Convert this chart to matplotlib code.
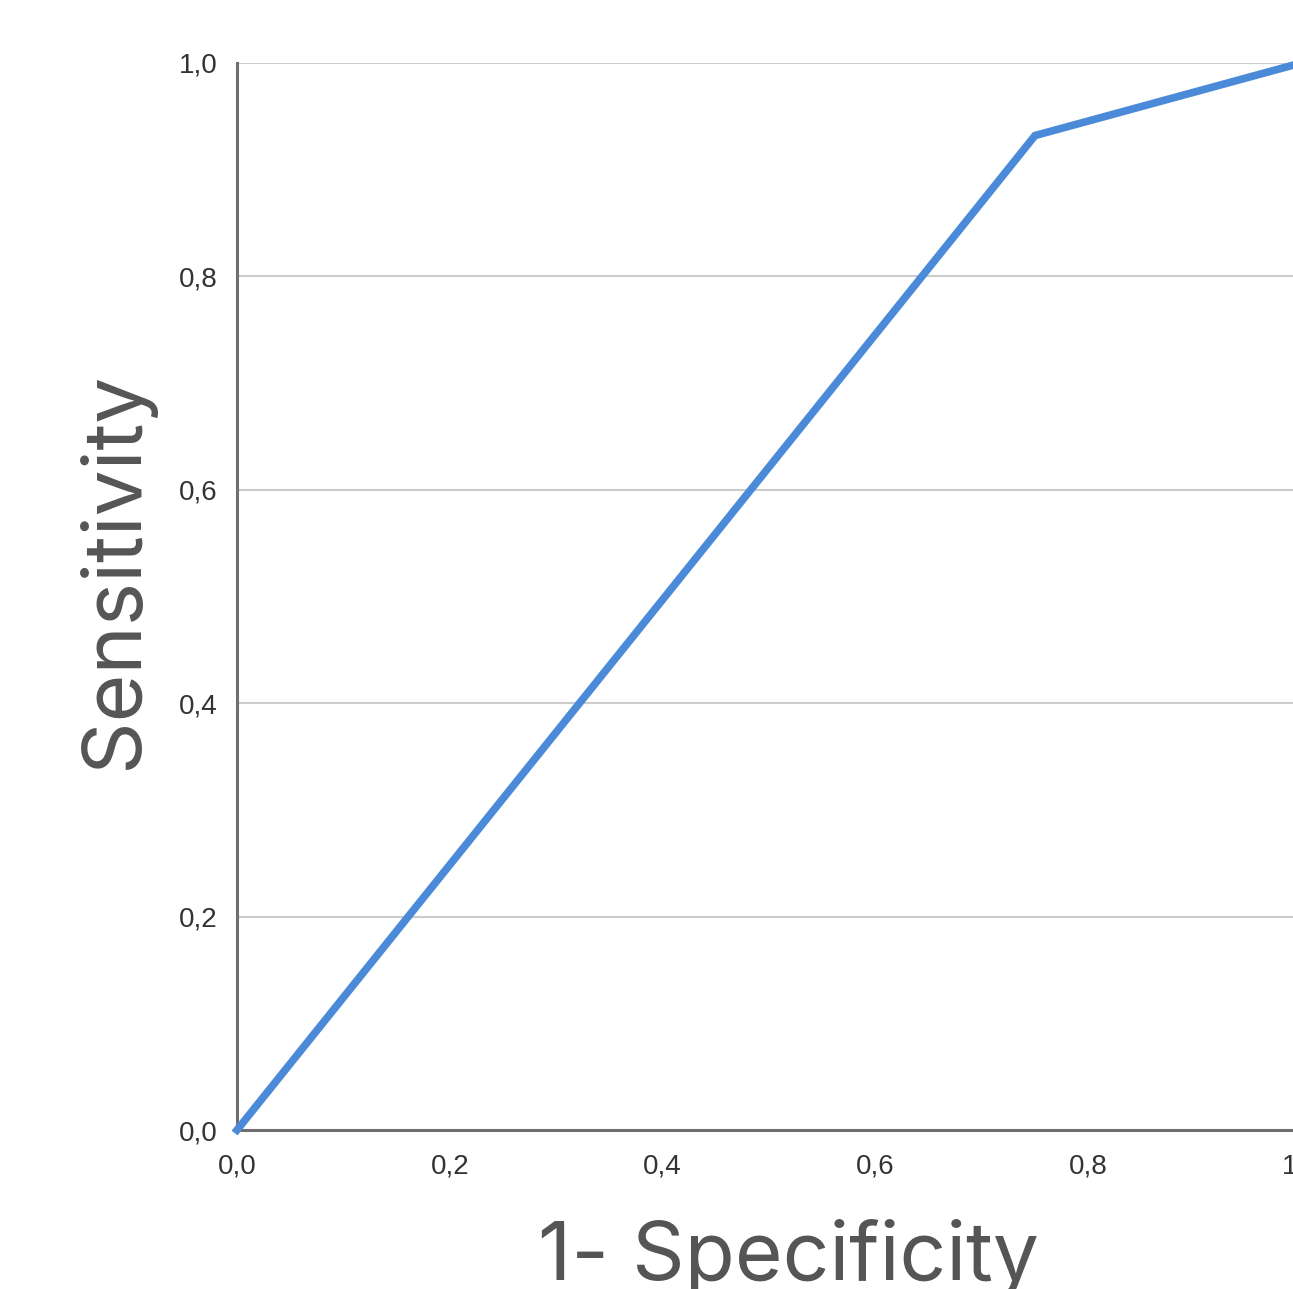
import matplotlib
matplotlib.use("Agg")
import matplotlib.pyplot as plt
from matplotlib.ticker import FuncFormatter

fpr = [0.0, 0.75, 1.0]
tpr = [0.0, 0.932, 1.0]
ticks = [0.0, 0.2, 0.4, 0.6, 0.8, 1.0]

W, H = 1293, 1289
fig = plt.figure(figsize=(W / 100, H / 100), dpi=100)
x0, x1 = 237, 1301
y0, y1 = 1130, 63
ax = fig.add_axes([x0 / W, 1 - y0 / H, (x1 - x0) / W, (y0 - y1) / H])

ax.plot(fpr, tpr, color="#4a8ad8", lw=5.5, solid_joinstyle="miter", clip_on=False, zorder=3)
ax.set_xlim(0, 1)
ax.set_ylim(0, 1)
ax.set_xticks(ticks)
ax.set_yticks(ticks)
fmt = FuncFormatter(lambda v, p: f"{v:.1f}".replace(".", ","))
ax.xaxis.set_major_formatter(fmt)
ax.yaxis.set_major_formatter(fmt)
ax.tick_params(length=0, labelsize=20, labelcolor="#333333")
ax.tick_params(axis="y", pad=14)
ax.tick_params(axis="x", pad=17)
for lab in ax.get_xticklabels() + ax.get_yticklabels():
    lab.set_family("Liberation Sans")
ax.grid(axis="y", color="#cccccc", lw=1.5)
ax.set_axisbelow(True)
for s in ["top", "right"]:
    ax.spines[s].set_visible(False)
for s in ["left", "bottom"]:
    ax.spines[s].set_color("#6f6f6f")
    ax.spines[s].set_linewidth(2.2)

fig.text(115 / W, 1 - 570 / H, "Sensitivity", rotation=90, ha="center", va="center",
         fontsize=59, color="#555555", family="Inter")
fig.text(788 / W, 1 - 1258 / H, "1- Specificity", ha="center", va="center",
         fontsize=59, color="#555555", family="Inter")

fig.savefig("out.png", dpi=100)
